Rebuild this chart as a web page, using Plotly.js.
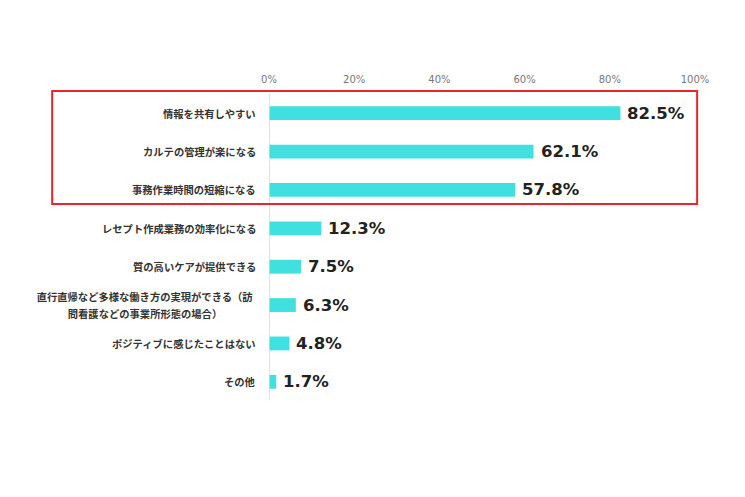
<!DOCTYPE html>
<html><head><meta charset="utf-8">
<script src="https://cdn.plot.ly/plotly-3.0.1.min.js"></script>
<style>html,body{margin:0;padding:0;background:#fff;}#chart{width:745px;height:497px;}</style>
</head><body><div id="chart"></div>
<script>
const categories = [
  "情報を共有しやすい",
  "カルテの管理が楽になる",
  "事務作業時間の短縮になる",
  "レセプト作成業務の効率化になる",
  "質の高いケアが提供できる",
  "直行直帰など多様な働き方の実現ができる（訪<br>問看護などの事業所形態の場合）",
  "ポジティブに感じたことはない",
  "その他"
];
const values = [82.5, 62.1, 57.8, 12.3, 7.5, 6.3, 4.8, 1.7];
const tickVals = [0, 20, 40, 60, 80, 100];
const tickText = ["0%", "20%", "40%", "60%", "80%", "100%"];

const labelFont = {family: "Noto Sans CJK JP", size: 10.3, color: "#333"};
const valueFont = {family: "DejaVu Sans", size: 16.5, color: "#222"};

const annotations = [];
categories.forEach((c, i) => {
  const lines = c.split("<br>");
  const lineGap = 17;
  lines.forEach((ln, k) => {
    const off = (lines.length - 1) / 2 - k;
    annotations.push({
      x: 0, xref: "x", y: c, yref: "y", xanchor: "right", yanchor: "middle",
      xshift: -11, yshift: off * lineGap,
      text: "<b>" + ln + "</b>", showarrow: false,
      font: labelFont,
      width: lines.length > 1 ? 222 : null, align: "center"
    });
  });
  annotations.push({
    x: values[i], xref: "x", y: c, yref: "y", xanchor: "left", yanchor: "middle",
    xshift: 5, text: "<b>" + values[i].toFixed(1) + "%</b>", showarrow: false,
    font: valueFont
  });
});

const data = [{
  type: "bar", orientation: "h",
  x: values, y: categories,
  marker: {color: "#3fe0df"},
  width: 0.36,
  hoverinfo: "none"
}];

const layout = {
  width: 745, height: 497,
  margin: {l: 269, r: 50, t: 94, b: 96},
  paper_bgcolor: "#fff", plot_bgcolor: "#fff",
  showlegend: false,
  xaxis: {
    side: "top", range: [0, 100], tickvals: tickVals, ticktext: tickText,
    showgrid: false, zeroline: false, showline: false,
    ticks: "outside", ticklen: 6, tickcolor: "rgba(0,0,0,0)",
    tickfont: {family: "DejaVu Sans", size: 10, color: "#777"}, fixedrange: true
  },
  yaxis: {
    type: "category", autorange: false, range: [7.5, -0.5],
    showticklabels: false, showgrid: false, zeroline: false, showline: false,
    ticks: "", fixedrange: true
  },
  shapes: [
    {type: "line", xref: "x", yref: "paper", x0: 0, x1: 0, y0: 0.005, y1: 1,
     line: {color: "#d9d9d9", width: 1.5}},
    {type: "rect", xref: "paper", yref: "paper", x0: -0.509, x1: 1.005, y0: 0.642, y1: 1.01,
     line: {color: "#e8262b", width: 2}}
  ],
  annotations: annotations
};
Plotly.newPlot("chart", data, layout, {displayModeBar: false, staticPlot: true});
</script></body></html>
